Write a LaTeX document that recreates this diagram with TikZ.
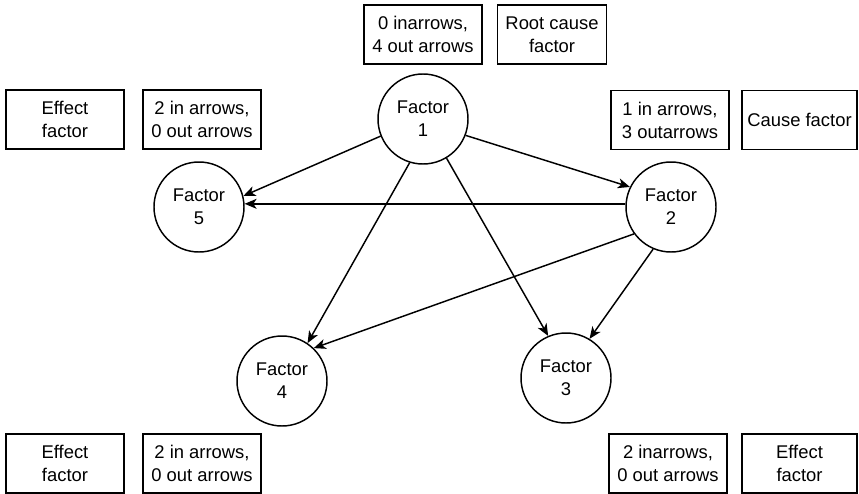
\documentclass[tikz,border=0pt]{standalone}
\usepackage{fontspec}
\setmainfont{Liberation Sans}
\usetikzlibrary{arrows.meta}
\begin{document}
\begin{tikzpicture}[x=0.75pt,y=-0.75pt,
  every node/.style={font=\fontsize{13.8}{17.3}\selectfont, align=center, inner sep=0pt},
  box/.style={draw, line width=1.1pt, minimum width=88.5pt, minimum height=44pt},
  circ/.style={draw, circle, line width=1.1pt, minimum size=67.5pt},
  link/.style={line width=1.1pt, -{Stealth[length=9pt,width=7.5pt,inset=2.5pt]}}]
\useasboundingbox (0,0) rectangle (859,493);

% factor circles
\node[circ] (f1) at (423,119) {Factor\\1};
\node[circ] (f2) at (671,207) {Factor\\2};
\node[circ] (f5) at (199,207) {Factor\\5};
\node[circ] (f4) at (282,381) {Factor\\4};
\node[circ] (f3) at (566,378) {Factor\\3};

% annotation boxes
\node[box] (b1) at (423,34.5) {0 inarrows,\\4 out arrows};
\node[box, minimum width=82pt] (b2) at (552,34.5) {Root cause\\factor};
\node[box] (b3) at (65,119.5) {Effect\\factor};
\node[box] (b4) at (202,119.5) {2 in arrows,\\0 out arrows};
\node[box] (b5) at (670,120) {1 in arrows,\\3 outarrows};
\node[box, minimum width=86pt] (b6) at (799.5,120) {Cause factor};
\node[box] (b7) at (65,463.5) {Effect\\factor};
\node[box] (b8) at (202,463.5) {2 in arrows,\\0 out arrows};
\node[box] (b9) at (668,463.5) {2 inarrows,\\0 out arrows};
\node[box, minimum width=86pt] (b10) at (799.5,463.5) {Effect\\factor};

% causal links
\draw[link] (f1.202) -- (f5.14);
\draw[link] (f2.176) -- (f5.4);
\draw[link] (f1.-21) -- (f2.154);
\draw[link] (f1.253) -- (f4.56);
\draw[link] (f1.301) -- (f3.113);
\draw[link] (f2.216) -- (f4.46);
\draw[link] (f2.247) -- (f3.59);
\end{tikzpicture}
\end{document}
